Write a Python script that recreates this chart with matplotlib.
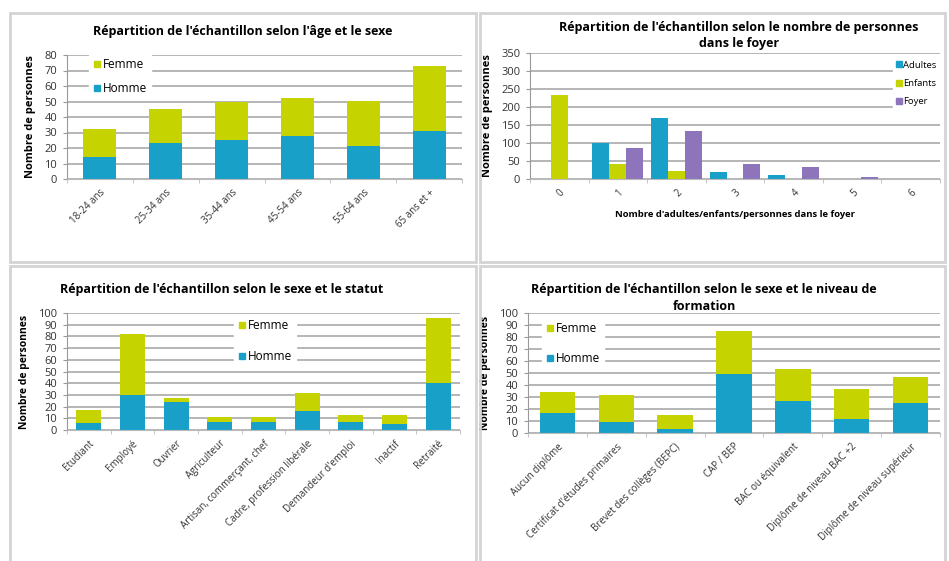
import numpy as np
import matplotlib.pyplot as plt
from matplotlib.patches import Rectangle
from matplotlib.lines import Line2D

plt.rcParams['font.family'] = ['Open Sans', 'DejaVu Sans']

# data
age_labels = ['18-24 ans', '25-34 ans', '35-44 ans', '45-54 ans', '55-64 ans', '65 ans et +']
age_homme = [14, 23, 25, 28, 21, 31]
age_femme = [18, 22, 25, 24, 29, 42]

foyer_labels = ['0', '1', '2', '3', '4', '5', '6']
foyer_adultes = [0, 100, 170, 20, 10, 0, 0]
foyer_enfants = [233, 42, 22, 0, 0, 0, 0]
foyer_foyer = [0, 86, 133, 41, 32, 5, 1]

statut_labels = ['Etudiant', 'Employé', 'Ouvrier', 'Agriculteur', 'Artisan, commerçant, chef',
                 'Cadre, profession libérale', "Demandeur d'emploi", 'Inactif', 'Retraité']
statut_homme = [6, 30, 24, 7, 7, 16, 7, 5, 40]
statut_femme = [11, 52, 3, 4, 4, 16, 6, 8, 56]

form_labels = ['Aucun diplôme', "Certificat d'études primaires", 'Brevet des collèges (BEPC)',
               'CAP / BEP', 'BAC ou équivalent', 'Diplôme de niveau BAC +2',
               'Diplôme de niveau supérieur']
form_homme = [17, 9, 3, 49, 27, 12, 25]
form_femme = [17, 23, 12, 36, 26, 25, 22]

GREEN = '#c5d300'
BLUE = '#18a0c9'
PURPLE = '#8d74bb'
GRID = '#b0b0b0'

W, H = 949, 561
fig = plt.figure(figsize=(W / 100, H / 100), dpi=100)


def box(x0, y0, x1, y1):
    return [x0 / W, 1 - y1 / H, (x1 - x0) / W, (y1 - y0) / H]


# panel frames
for x0, y0, x1, y1 in [(10, 13, 476, 262), (480, 13, 945, 262),
                       (10, 266, 476, 570), (480, 266, 945, 570)]:
    fig.patches.append(Rectangle((x0 / W, 1 - y1 / H), (x1 - x0) / W, (y1 - y0) / H,
                                 transform=fig.transFigure, fill=False,
                                 edgecolor='#d4d4d4', lw=2))


def style_axes(ax, n, ymax, step, labels, rot_fs=7, ylab_fs=8):
    ax.set_xlim(-0.5, n - 0.5)
    ax.set_ylim(0, ymax)
    ax.set_yticks(np.arange(0, ymax + 1, step))
    ax.yaxis.grid(True, color=GRID, lw=1.3)
    ax.set_axisbelow(True)
    for s in ['top', 'right']:
        ax.spines[s].set_visible(False)
    ax.spines['left'].set_color('#999999')
    ax.spines['bottom'].set_color('#bbbbbb')
    ax.set_xticks(range(n))
    ax.set_xticklabels(labels, rotation=45, ha='right', rotation_mode='anchor',
                       fontsize=rot_fs, color='#333333')
    ax.tick_params(axis='x', length=0, pad=6)
    ax.set_xticks(np.arange(-0.5, n, 1), minor=True)
    ax.tick_params(axis='x', which='minor', length=3, color='#bbbbbb')
    ax.tick_params(axis='y', length=3, color='#999999', labelsize=8, pad=4,
                   labelcolor='#333333')
    ax.set_ylabel('Nombre de personnes', fontsize=ylab_fs, fontweight='bold', labelpad=6)


def sex_legend(ax, loc, bbox, spacing=1.1):
    handles = [Line2D([], [], marker='s', ls='', color=GREEN, markersize=5),
               Line2D([], [], marker='s', ls='', color=BLUE, markersize=5)]
    ax.legend(handles, ['Femme', 'Homme'], loc=loc, bbox_to_anchor=bbox,
              frameon=True, framealpha=1, edgecolor='white', fancybox=False,
              fontsize=8.5, labelspacing=spacing, handletextpad=0.1, handlelength=0.8,
              borderpad=0.3)


# top-left: age
ax1 = fig.add_axes(box(67, 55, 462, 179))
x = np.arange(len(age_labels))
ax1.bar(x, age_homme, 0.5, color=BLUE)
ax1.bar(x, age_femme, 0.5, bottom=age_homme, color=GREEN)
style_axes(ax1, len(age_labels), 80, 10, age_labels)
sex_legend(ax1, 'upper left', (0.04, 1.05), spacing=0.9)
fig.text(243 / W, 1 - 31 / H, "Répartition de l'échantillon selon l'âge et le sexe",
         ha='center', va='center', fontsize=9, fontweight='bold')

# top-right: foyer
ax2 = fig.add_axes(box(530, 53, 940, 179))
x = np.arange(len(foyer_labels))
bw = 0.29
ax2.bar(x - bw, foyer_adultes, bw, color=BLUE)
ax2.bar(x, foyer_enfants, bw, color=GREEN)
ax2.bar(x + bw, foyer_foyer, bw, color=PURPLE)
style_axes(ax2, len(foyer_labels), 350, 50, foyer_labels)
ax2.set_xlabel("Nombre d'adultes/enfants/personnes dans le foyer",
               fontsize=6.8, fontweight='bold', labelpad=8)
handles = [Line2D([], [], marker='s', ls='', color=c, markersize=4)
           for c in [BLUE, GREEN, PURPLE]]
ax2.legend(handles, ['Adultes', 'Enfants', 'Foyer'], loc='upper right',
           bbox_to_anchor=(1.01, 1.0), frameon=True, framealpha=1,
           edgecolor='white', fancybox=False, fontsize=6.8, labelspacing=1.0,
           handletextpad=0.1, handlelength=0.7, borderpad=0.3)
fig.text(739 / W, 1 - 28 / H, "Répartition de l'échantillon selon le nombre de personnes",
         ha='center', va='center', fontsize=9, fontweight='bold')
fig.text(739 / W, 1 - 44 / H, "dans le foyer",
         ha='center', va='center', fontsize=9, fontweight='bold')

# bottom-left: statut
ax3 = fig.add_axes(box(67, 313, 460, 430))
x = np.arange(len(statut_labels))
ax3.bar(x, statut_homme, 0.58, color=BLUE)
ax3.bar(x, statut_femme, 0.58, bottom=statut_homme, color=GREEN)
style_axes(ax3, len(statut_labels), 100, 10, statut_labels, ylab_fs=7.5)
sex_legend(ax3, 'upper left', (0.41, 1.03), spacing=1.5)
fig.text(222 / W, 1 - 290 / H, "Répartition de l'échantillon selon le sexe et le statut",
         ha='center', va='center', fontsize=9, fontweight='bold')

# bottom-right: formation
ax4 = fig.add_axes(box(528, 313, 940, 433))
x = np.arange(len(form_labels))
ax4.bar(x, form_homme, 0.6, color=BLUE)
ax4.bar(x, form_femme, 0.6, bottom=form_homme, color=GREEN)
style_axes(ax4, len(form_labels), 100, 10, form_labels, ylab_fs=7.5)
sex_legend(ax4, 'upper left', (0.02, 1.0), spacing=1.4)
fig.text(704 / W, 1 - 289 / H, "Répartition de l'échantillon selon le sexe et le niveau de",
         ha='center', va='center', fontsize=9, fontweight='bold')
fig.text(704 / W, 1 - 306 / H, "formation",
         ha='center', va='center', fontsize=9, fontweight='bold')

fig.savefig('out.png', dpi=100)
